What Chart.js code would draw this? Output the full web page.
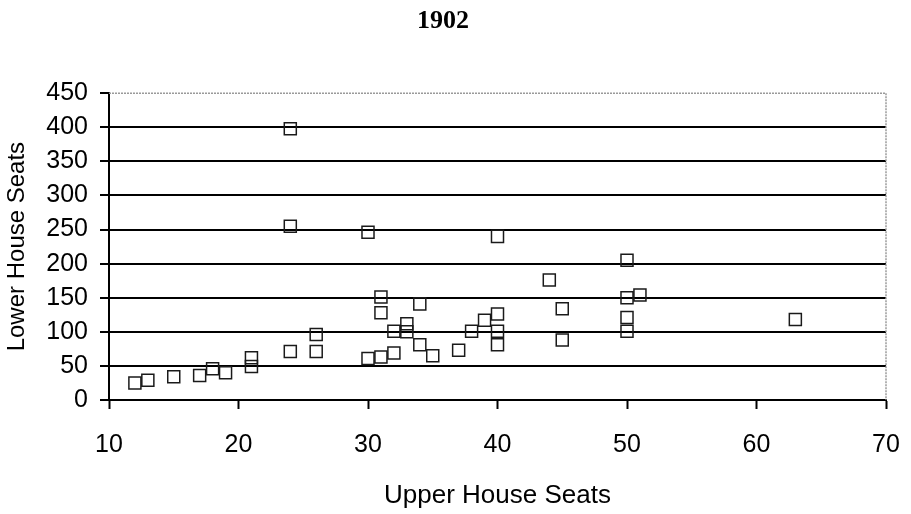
<!DOCTYPE html>
<html>
<head>
<meta charset="utf-8">
<title>1902</title>
<script src="https://cdn.jsdelivr.net/npm/chart.js@4.4.1/dist/chart.umd.min.js"></script>
<style>
    html, body { margin: 0; padding: 0; background: #fff; }
    #wrap { width: 911px; height: 514px; }
</style>
</head>
<body>
<div id="wrap"><canvas id="seatsChart" width="911" height="514"></canvas></div>
<script>
// Upper vs lower house seats, 1902
var upperSeats = [12, 13, 15, 17, 18, 19, 21, 21, 24, 24, 24, 26, 26, 30, 30, 31, 31, 31, 32, 32,
    33, 33, 34, 34, 35, 37, 38, 39, 40, 40, 40, 40, 44, 45, 45, 50, 50, 50, 50, 51, 63];
var lowerSeats = [25, 29, 34, 36, 46, 40, 62, 49, 398, 255, 71, 96, 71, 246, 61, 151, 128, 63, 101, 69,
    112, 100, 141, 81, 65, 73, 101, 117, 240, 126, 101, 81, 176, 134, 88, 205, 150, 121, 101, 154, 118];
var xTicks = [10, 20, 30, 40, 50, 60, 70];
var yTicks = [0, 50, 100, 150, 200, 250, 300, 350, 400, 450];

var points = upperSeats.map(function (u, i) {
    return { x: u, y: lowerSeats[i] };
});

// dotted grey frame on top and right of the plot area
var frameLines = {
    id: 'frameLines',
    afterDraw: function (chart) {
        var ctx = chart.ctx, a = chart.chartArea;
        ctx.save();
        ctx.strokeStyle = '#9a9a9a';
        ctx.lineWidth = 1.5;
        ctx.setLineDash([2, 1]);
        ctx.beginPath();
        ctx.moveTo(a.left, a.top);
        ctx.lineTo(a.right, a.top);
        ctx.lineTo(a.right, a.bottom);
        ctx.stroke();
        ctx.restore();
    }
};

var sans = "'Liberation Sans', Arial, sans-serif";
var tickFont = { family: sans, size: 25 };

new Chart(document.getElementById('seatsChart').getContext('2d'), {
    type: 'scatter',
    data: {
        datasets: [{
            label: 'Seats',
            data: points,
            pointStyle: 'rect',
            pointRadius: 8.5,
            pointHoverRadius: 8.5,
            pointBorderWidth: 1.5,
            pointBackgroundColor: 'rgba(255,255,255,0)',
            pointBorderColor: '#1a1a1a'
        }]
    },
    options: {
        responsive: false,
        animation: false,
        layout: { padding: { left: 0, right: 25, top: 0, bottom: 0 } },
        plugins: {
            legend: { display: false },
            tooltip: { enabled: false },
            title: {
                display: true,
                text: '1902',
                color: '#000',
                font: { family: "'Liberation Serif', 'Times New Roman', serif", size: 26, weight: 'bold' },
                padding: { top: 6, bottom: 56 }
            }
        },
        scales: {
            x: {
                type: 'linear',
                min: 10,
                max: 70,
                afterFit: function (scale) {
                    scale.height = 114;
                    scale.paddingLeft = 0;
                    scale.paddingRight = 0;
                },
                afterBuildTicks: function (scale) {
                    scale.ticks = xTicks.map(function (v) { return { value: v }; });
                },
                ticks: { color: '#000', font: tickFont, padding: 21, maxRotation: 0 },
                grid: { drawOnChartArea: false, drawTicks: true, tickLength: 9, tickColor: '#000', tickWidth: 2 },
                border: { color: '#000', width: 2 },
                title: {
                    display: true,
                    text: 'Upper House Seats',
                    color: '#000',
                    font: { family: sans, size: 26 },
                    padding: { top: 0, bottom: 3 }
                }
            },
            y: {
                type: 'linear',
                min: 0,
                max: 450,
                afterFit: function (scale) { scale.width = 109; },
                afterBuildTicks: function (scale) {
                    scale.ticks = yTicks.map(function (v) { return { value: v }; });
                },
                ticks: { color: '#000', font: tickFont, padding: 12 },
                grid: {
                    color: function (ctx) {
                        return ctx.tick && ctx.tick.value === 450 ? 'rgba(0,0,0,0)' : '#000';
                    },
                    lineWidth: 2,
                    tickLength: 9,
                    tickColor: '#000'
                },
                border: { color: '#000', width: 2 },
                title: {
                    display: true,
                    text: 'Lower House Seats',
                    color: '#000',
                    font: { family: sans, size: 24 },
                    padding: { top: 3, bottom: 0 }
                }
            }
        }
    },
    plugins: [frameLines]
});
</script>
</body>
</html>
